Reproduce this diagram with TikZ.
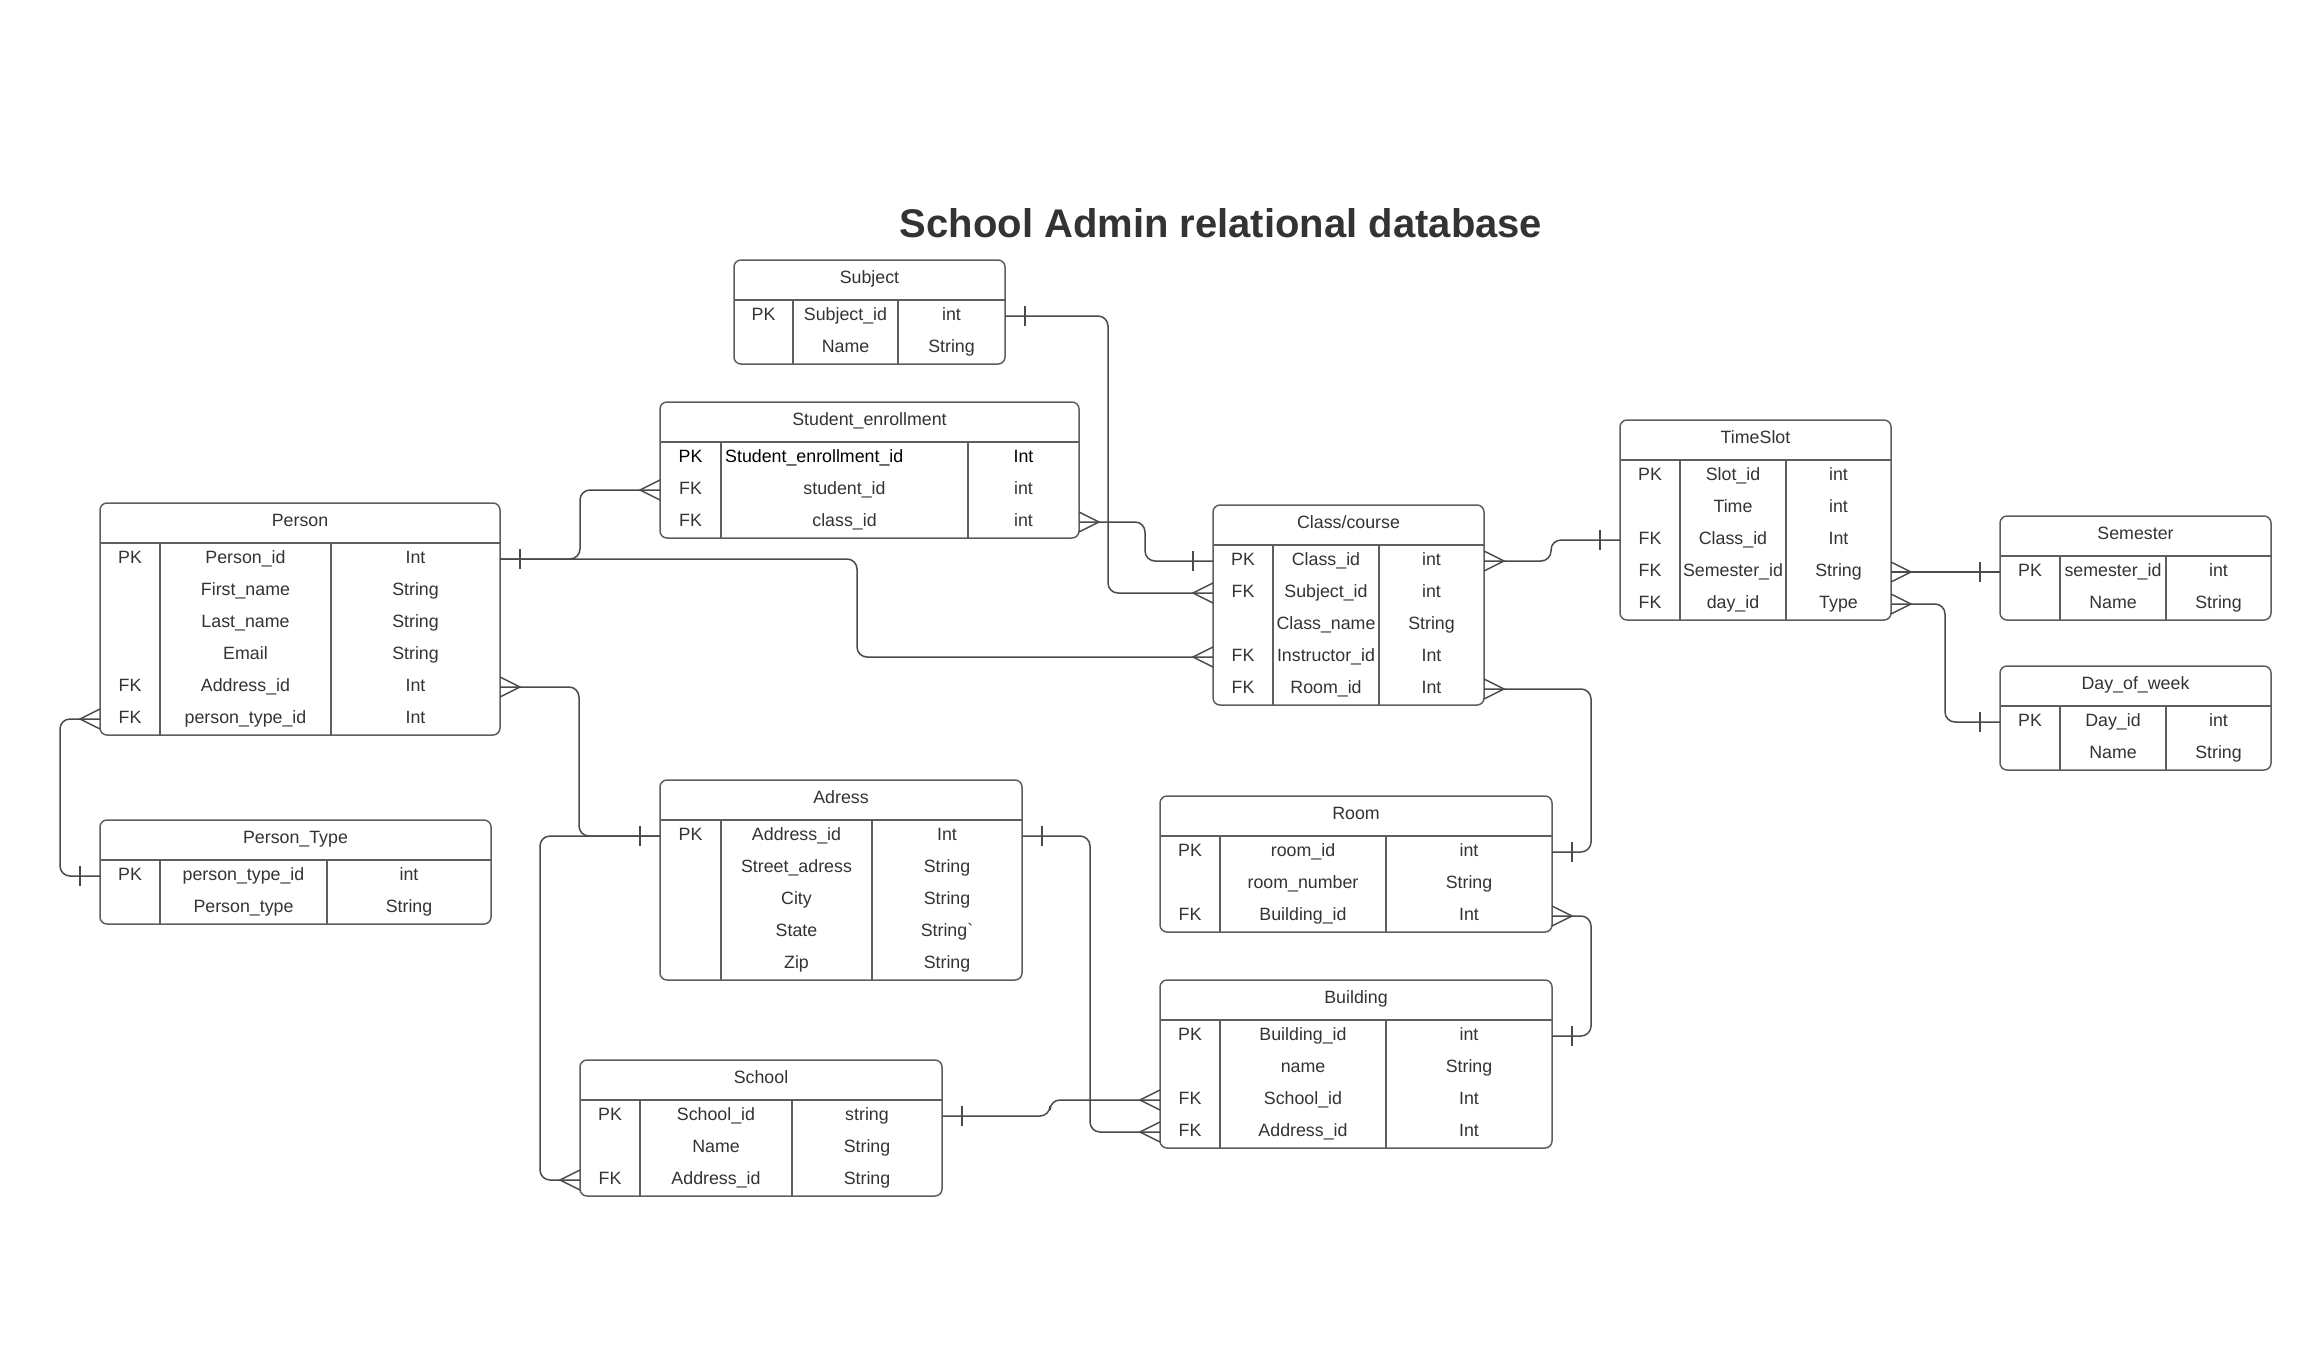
\documentclass[tikz,border=0pt]{standalone}
\usepackage{fontspec}
\setmainfont{Liberation Sans}
\usetikzlibrary{fit,calc}
\definecolor{textc}{HTML}{333333}
\definecolor{boxc}{HTML}{5E5E5E}
\definecolor{connc}{HTML}{4A4A4A}
\tikzset{
  tbl/.style={draw=boxc, line width=1.5pt, rounded corners=7pt, inner sep=0pt},
  sepline/.style={draw=boxc, line width=1.5pt},
  txt/.style={anchor=base, inner sep=0pt, text=textc, font=\fontsize{17.8}{20}\selectfont},
  conn/.style={draw=connc, line width=1.5pt, rounded corners=10pt},
  endmark/.style={draw=connc, line width=1.5pt, sharp corners},
}
% #1 name, #2 left, #3 top, #4 right, #5 col1, #6 col2, #7 title, #8 rows, #9 number of rows
\newcommand\erdtable[9]{%
  \pgfmathsetmacro\erdbot{#3+40+32*#9}%
  \coordinate (#1-nw) at (#2,#3);
  \coordinate (#1-se) at (#4,\erdbot);
  \node[tbl, fit=(#1-nw)(#1-se)] (#1) {};
  \node[txt] (#1-title) at ({(#2+#4)/2},#3+23.5) {#7};
  \draw[sepline] (#2,#3+40) -- (#4,#3+40);
  \draw[sepline] (#5,#3+40) -- (#5,\erdbot);
  \draw[sepline] (#6,#3+40) -- (#6,\erdbot);
  \foreach \k/\n/\t [count=\i] in {#8} {
    \pgfmathsetmacro\ry{#3+40+32*\i-16}
    \node[txt] at ({(#2+#5)/2},\ry+4) {\k};
    \node[txt] at ({(#5+#6)/2},\ry+4) {\n};
    \node[txt] at ({(#6+#4)/2},\ry+4) {\t};
    \coordinate (#1-\i-w) at (#2,\ry);
    \coordinate (#1-\i-e) at (#4,\ry);
  }
}
\newcommand\erdmany[2]{\draw[endmark] ($(#1)+(0,10)$) -- ($(#1)+(#2*20,0)$) -- ($(#1)+(0,-10)$);}
\newcommand\erdone[2]{\draw[endmark] ($(#1)+(#2*20,10)$) -- ($(#1)+(#2*20,-10)$);}

\begin{document}
\begin{tikzpicture}[x=1pt,y=-1pt]
\fill[white] (0,0) rectangle (2320,1360);
\useasboundingbox (0,0) rectangle (2320,1360);

\node[anchor=base, inner sep=0pt, text=textc, font=\bfseries\fontsize{40}{45}\selectfont] (title) at (1221,237) {School Admin relational database};

\erdtable{subject}{734}{260}{1005}{793}{898}{Subject}{PK/Subject\_id/int, {}/Name/String}{2}
\erdtable{senr}{660}{402}{1079}{721}{968}{Student\_enrollment}{{\color{black}PK}/{}/{\color{black}Int}, FK/student\_id/int, FK/class\_id/int}{3}
\node[txt, anchor=base west, text=black] (senr-pkname) at (725,462) {Student\_enrollment\_id};
\erdtable{person}{100}{503}{500}{160}{331}{Person}{PK/Person\_id/Int, {}/First\_name/String, {}/Last\_name/String, {}/Email/String, FK/Address\_id/Int, FK/person\_type\_id/Int}{6}
\erdtable{ptype}{100}{820}{491}{160}{327}{Person\_Type}{PK/person\_type\_id/int, {}/Person\_type/String}{2}
\erdtable{adress}{660}{780}{1022}{721}{872}{Adress}{PK/Address\_id/Int, {}/Street\_adress/String, {}/City/String, {}/State/String\textasciigrave, {}/Zip/String}{5}
\erdtable{school}{580}{1060}{942}{640}{792}{School}{PK/School\_id/string, {}/Name/String, FK/Address\_id/String}{3}
\erdtable{room}{1160}{796}{1552}{1220}{1386}{Room}{PK/room\_id/int, {}/room\_number/String, FK/Building\_id/Int}{3}
\erdtable{bldg}{1160}{980}{1552}{1220}{1386}{Building}{PK/Building\_id/int, {}/name/String, FK/School\_id/Int, FK/Address\_id/Int}{4}
\erdtable{cls}{1213}{505}{1484}{1273}{1379}{Class/course}{PK/Class\_id/int, FK/Subject\_id/int, {}/Class\_name/String, FK/Instructor\_id/Int, FK/Room\_id/Int}{5}
\erdtable{ts}{1620}{420}{1891}{1680}{1786}{TimeSlot}{PK/Slot\_id/int, {}/Time/int, FK/Class\_id/Int, FK/Semester\_id/String, FK/day\_id/Type}{5}
\erdtable{sem}{2000}{516}{2271}{2060}{2166}{Semester}{PK/semester\_id/int, {}/Name/String}{2}
\erdtable{dow}{2000}{666}{2271}{2060}{2166}{Day\_of\_week}{PK/Day\_id/int, {}/Name/String}{2}

% connectors
\draw[conn] (subject-1-e) -| (1108,593) -- (cls-2-w);
\erdone{subject-1-e}{1} \erdmany{cls-2-w}{-1}

\draw[conn] (senr-2-w) -| (580,559) -- (person-1-e);
\erdmany{senr-2-w}{-1} \erdone{person-1-e}{1}

\draw[conn] (person-1-e) -| (857,657) -- (cls-4-w);
\erdmany{cls-4-w}{-1}

\draw[conn] (senr-3-e) -| (1145,561) -- (cls-1-w);
\erdmany{senr-3-e}{1} \erdone{cls-1-w}{-1}

\draw[conn] (cls-5-e) -| (1591,852) -- (room-1-e);
\erdmany{cls-5-e}{1} \erdone{room-1-e}{1}

\draw[conn] (room-3-e) -| (1591,1036) -- (bldg-1-e);
\erdmany{room-3-e}{1} \erdone{bldg-1-e}{1}

\draw[conn] (cls-1-e) -| (1551,540) -- (ts-3-w);
\erdmany{cls-1-e}{1} \erdone{ts-3-w}{-1}

\draw[conn] (ts-4-e) -- (sem-1-w);
\erdmany{ts-4-e}{1} \erdone{sem-1-w}{-1}

\draw[conn] (ts-5-e) -| (1945,722) -- (dow-1-w);
\erdmany{ts-5-e}{1} \erdone{dow-1-w}{-1}

\draw[conn] (person-6-w) -| (60,876) -- (ptype-1-w);
\erdmany{person-6-w}{-1} \erdone{ptype-1-w}{-1}

\draw[conn] (person-5-e) -| (579,836) -- (adress-1-w);
\erdmany{person-5-e}{1} \erdone{adress-1-w}{-1}

\draw[conn] (adress-1-w) -| (540,1180) -- (school-3-w);
\erdmany{school-3-w}{-1}

\draw[conn] (adress-1-e) -| (1090,1132) -- (bldg-4-w);
\erdone{adress-1-e}{1} \erdmany{bldg-4-w}{-1}

\draw[conn] (school-1-e) -| (1050,1100) -- (bldg-3-w);
\erdone{school-1-e}{1} \erdmany{bldg-3-w}{-1}
\end{tikzpicture}
\end{document}
